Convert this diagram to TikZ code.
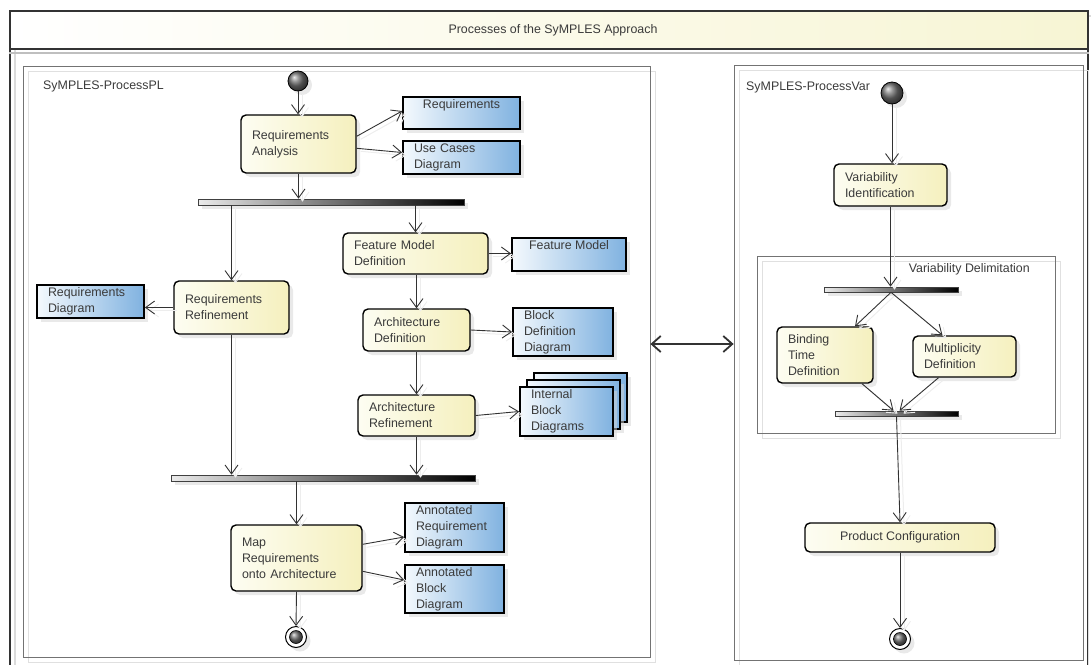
\documentclass[tikz,border=0pt]{standalone}
\usepackage{fontspec}
\setmainfont{Liberation Sans}
\usetikzlibrary{arrows.meta,calc,shadows}

\definecolor{ink}{RGB}{58,58,58}
\definecolor{actL}{RGB}{253,253,242}
\definecolor{actR}{RGB}{245,240,190}
\definecolor{artL}{RGB}{244,249,253}
\definecolor{artR}{RGB}{128,178,224}
\definecolor{hdrR}{RGB}{247,245,212}
\definecolor{edge}{RGB}{50,50,50}

\tikzset{
  every node/.style={font=\fontsize{12.4}{16}\selectfont, text=ink},
  softshadow/.style={drop shadow={shadow xshift=4pt, shadow yshift=-4pt, fill=black!17}},
  actbox/.style={draw=black, line width=1.4pt, rounded corners=5pt,
    left color=actL, right color=actR, softshadow,
    inner xsep=11pt, inner ysep=0pt, align=left},
  artbox/.style={draw=black, line width=1.8pt, rectangle,
    left color=artL, right color=artR, softshadow,
    inner xsep=11pt, inner ysep=0pt, align=left},
  barnode/.style={draw=black!75, line width=0.6pt, rectangle, inner sep=0pt,
    left color=black!8, right color=black, softshadow},
  initnode/.style={circle, draw=black, line width=0.8pt, minimum size=20pt,
    inner sep=0pt, shading=ball, ball color=black!55, softshadow},
  finalnode/.style={circle, draw=black, line width=1pt, minimum size=21pt,
    inner sep=0pt, fill=white, softshadow},
  partbox/.style={draw=black!55, line width=0.8pt, rectangle, inner sep=0pt,
    preaction={draw=black!12, line width=1pt,
      transform canvas={shift={(5pt,-5pt)}}}},
  flow/.style={draw=edge, line width=0.9pt,
    -{Straight Barb[length=9pt,width=13pt,line width=0.9pt]},
    preaction={draw=black!7, line width=1pt,
      transform canvas={shift={(4pt,-3pt)}}}},
  bothways/.style={draw=edge, line width=1.8pt,
    {Straight Barb[length=9pt,width=16pt,line width=1.8pt]}-{Straight Barb[length=9pt,width=16pt,line width=1.8pt]}},
  caption/.style={inner sep=0pt, anchor=west},
}

\begin{document}
\begin{tikzpicture}[x=1pt,y=-1pt]
\useasboundingbox (0,0) rectangle (1091,664);
\clip (0,0) rectangle (1091,664);

% outer diagram frame with its header
\draw[black!14, line width=1.2pt] (15,16) rectangle (1093,720);
\draw[black!80, line width=1.6pt] (10,11) rectangle (1088,715);
\node[draw=black!80, line width=1.6pt, rectangle, inner sep=0pt,
      left color=white, right color=hdrR,
      minimum width=1078pt, minimum height=38pt] (head) at (549,30) {};
\draw[black!25, line width=1.6pt] ($(head.south west)+(0,3)$) -- ($(head.south east)+(0,3)$);
\node (title) at (553,30) {Processes of the SyMPLES Approach};

% ---------------- SyMPLES-ProcessPL ----------------
\node[partbox, minimum width=627pt, minimum height=591pt] (plA) at (336.5,361.5) {};
\node[caption] (plAname) at (43,86) {SyMPLES-ProcessPL};

\node[initnode] (s1) at (298,81) {};

\node[actbox, text width=93pt, minimum height=58pt] (ra) at (298.5,144) {Requirements\\Analysis};
\node[artbox, minimum width=117pt, minimum height=32pt,
      label={[anchor=north, inner sep=3pt]north:Requirements}] (req) at (461.5,113) {};
\node[artbox, text width=95pt, minimum height=33pt] (ucd) at (461.5,157.5) {Use Cases\\Diagram};

\node[barnode, minimum width=266pt, minimum height=6pt] (bar1) at (331,202) {};

\node[actbox, text width=93pt, minimum height=53pt] (rr) at (231.5,307.5) {Requirements\\Refinement};
\node[artbox, text width=85pt, minimum height=33pt] (rd) at (90.5,301.5) {Requirements\\Diagram};

\node[actbox, text width=123pt, minimum height=41pt] (fmd) at (415.5,253.5) {Feature Model\\Definition};
\node[artbox, minimum width=114pt, minimum height=33pt,
      label={[anchor=north, inner sep=3pt]north:Feature Model}] (fm) at (569,254.5) {};

\node[actbox, text width=85pt, minimum height=42pt] (ad) at (416.5,330) {Architecture\\Definition};
\node[artbox, text width=78pt, minimum height=48pt] (bdd) at (563,332) {Block\\Definition\\Diagram};

\node[actbox, text width=95pt, minimum height=41pt] (ar) at (416.5,415.5) {Architecture\\Refinement};
\node[artbox, minimum width=93pt, minimum height=49pt] (ibd3) at (580.5,397.5) {};
\node[artbox, minimum width=93pt, minimum height=49pt] (ibd2) at (573.5,404.5) {};
\node[artbox, text width=71pt, minimum height=49pt] (ibd) at (566.5,411.5) {Internal\\Block\\Diagrams};

\node[barnode, minimum width=304pt, minimum height=6pt] (bar2) at (323,478) {};

\node[actbox, text width=109pt, minimum height=66pt] (map) at (296.5,558) {Map\\Requirements\\onto Architecture};
\node[artbox, text width=77pt, minimum height=49pt] (ard) at (454.5,527.5) {Annotated\\Requirement\\Diagram};
\node[artbox, text width=77pt, minimum height=48pt] (abd) at (454.5,589) {Annotated\\Block\\Diagram};

\node[finalnode] (e1) at (296,637) {};
\shade[ball color=black!55] (e1.center) circle (6.5pt);
\draw[black, line width=0.6pt] (e1.center) circle (6.5pt);

% flows of SyMPLES-ProcessPL
\draw[flow] (s1.south) -- (s1.south |- ra.north);
\draw[flow] ($(ra.north east)+(0,22)$) -- ($(req.west)+(0,-2)$);
\draw[flow] ($(ra.north east)+(0,34)$) -- ($(ucd.west)+(0,-5)$);
\draw[flow] (ra.south) -- (ra.south |- bar1.north);
\draw[flow] (rr.north |- bar1.south) -- (rr.north);
\draw[flow] (fmd.north |- bar1.south) -- (fmd.north);
\draw[flow] (fmd.east) -- (fmd.east -| fm.west);
\draw[flow] (rr.west) -- (rr.west -| rd.east);
\draw[flow] (rr.south) -- (rr.south |- bar2.north);
\draw[flow] (ad.north |- fmd.south) -- (ad.north);
\draw[flow] (ad.east) -- (bdd.west);
\draw[flow] (ad.south) -- (ar.north);
\draw[flow] (ar.east) -- (ibd.west);
\draw[flow] (ar.south) -- (ar.south |- bar2.north);
\draw[flow] (map.north |- bar2.south) -- (map.north);
\draw[flow] ($(map.north east)+(0,20)$) -- ($(ard.west)+(0,9.5)$);
\draw[flow] ($(map.north east)+(0,47)$) -- ($(abd.west)+(0,-9)$);
\draw[flow] (map.south) -- (e1.north);

% ---------------- SyMPLES-ProcessVar ----------------
\node[partbox, minimum width=349pt, minimum height=595pt] (plB) at (908.5,362.5) {};
\node[caption] (plBname) at (746,87) {SyMPLES-ProcessVar};

\node[initnode, minimum size=22pt] (s2) at (892,93) {};
\node[actbox, text width=91pt, minimum height=42pt] (vi) at (890.5,185) {Variability\\Identification};

\node[partbox, minimum width=298pt, minimum height=177pt] (vd) at (906,344.5) {};
\node[inner sep=0pt, anchor=east] (vdname) at (1030,269) {Variability Delimitation};

\node[barnode, minimum width=134pt, minimum height=5pt] (bar3) at (891,289.5) {};
\node[actbox, text width=74pt, minimum height=56pt] (btd) at (825,355) {Binding\\Time\\Definition};
\node[actbox, text width=81pt, minimum height=41pt] (md) at (964.5,356.5) {Multiplicity\\Definition};
\node[barnode, minimum width=123pt, minimum height=5pt] (bar4) at (896.5,413.5) {};

\node[actbox, align=center, inner xsep=4pt, minimum width=190pt, minimum height=29pt] (pc) at (900,537.5) {Product Configuration};

\node[finalnode] (e2) at (900,639) {};
\shade[ball color=black!55] (e2.center) circle (6.5pt);
\draw[black, line width=0.6pt] (e2.center) circle (6.5pt);

% flows of SyMPLES-ProcessVar
\draw[flow] (s2.south) -- (s2.south |- vi.north);
\draw[flow] (vi.south) -- (vi.south |- bar3.north);
\draw[flow] (bar3.south) -- ($(btd.north)+(30,0)$);
\draw[flow] (bar3.south) -- ($(md.north)+(-22,0)$);
\draw[flow] ($(btd.south)+(37,0)$) -- ($(bar4.north)+(-3,0)$);
\draw[flow] ($(md.south)+(-26,0)$) -- ($(bar4.north)+(3,0)$);
\draw[flow] (bar4.south) -- (pc.north);
\draw[flow] (pc.south) -- (e2.north);

% link between the two processes
\coordinate (link) at (690,344);
\draw[bothways] (link -| plA.east) -- (link -| plB.west);
\end{tikzpicture}
\end{document}
